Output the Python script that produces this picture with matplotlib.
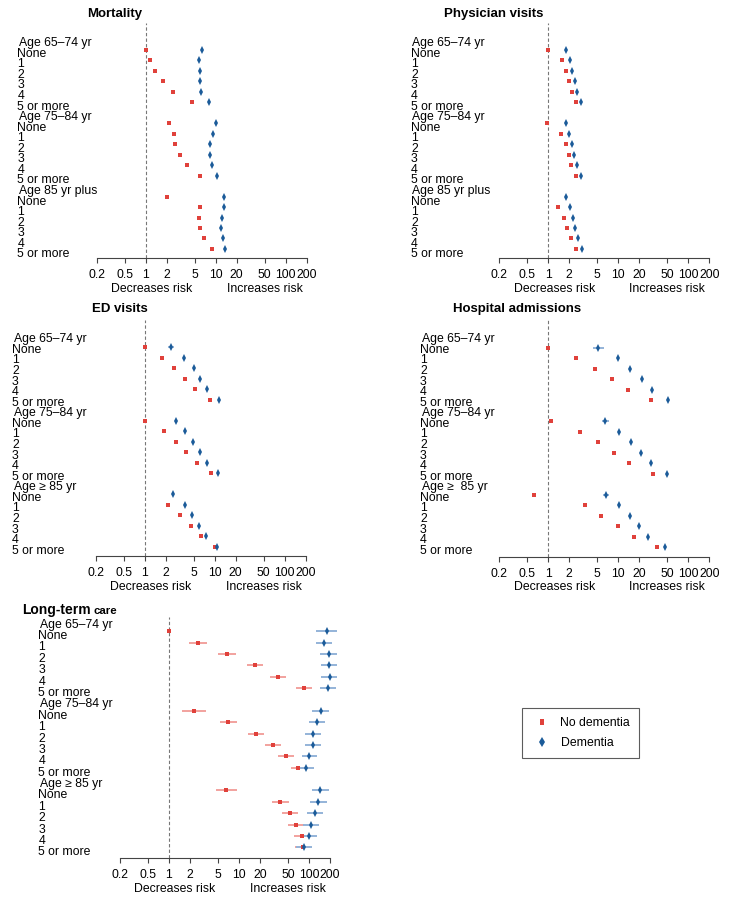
import numpy as np
import matplotlib.pyplot as plt
from matplotlib.lines import Line2D

plt.rcParams['font.family'] = ['Liberation Sans', 'DejaVu Sans']

RED = '#E0413B'
BLUE = '#1B5B99'
RED_CI = '#F2A29E'
BLUE_CI = '#94B3D8'

ticks = [0.2, 0.5, 1, 2, 5, 10, 20, 50, 100, 200]
tick_labels = ['0.2', '0.5', '1', '2', '5', '10', '20', '50', '100', '200']
counts = ['None', '1', '2', '3', '4', '5 or more']
ages_a = ['Age 65\u201374 yr', 'Age 75\u201384 yr', 'Age 85 yr plus']
ages_b = ['Age 65\u201374 yr', 'Age 75\u201384 yr', 'Age \u2265 85 yr']
ages_c = ['Age 65\u201374 yr', 'Age 75\u201384 yr', 'Age \u2265  85 yr']

# hazard ratios, 3 age groups x 6 comorbidity counts
mort_nd = [1.0, 1.14, 1.37, 1.77, 2.43, 4.55,
           2.15, 2.51, 2.65, 3.1, 3.86, 6.05,
           2.04, 5.92, 5.8, 5.99, 6.76, 8.9]
mort_d = [6.33, 5.73, 6.05, 6.05, 6.19, 8.15,
          10.2, 9.2, 8.42, 8.42, 8.9, 10.6,
          13.2, 13.1, 12.4, 12.1, 12.7, 13.7]

phys_nd = [1.0, 1.55, 1.81, 2.0, 2.16, 2.52,
           0.96, 1.52, 1.77, 1.96, 2.14, 2.49,
           None, 1.38, 1.68, 1.87, 2.11, 2.49]
phys_d = [1.79, 2.02, 2.21, 2.41, 2.6, 2.97,
          1.77, 2.0, 2.19, 2.35, 2.57, 2.97,
          1.81, 2.07, 2.28, 2.44, 2.66, 3.07]

ed_nd = [1.0, 1.8, 2.61, 3.79, 5.33, 8.45,
         1.0, 1.92, 2.82, 3.96, 5.51, 8.74,
         None, 2.14, 3.22, 4.57, 6.29, 9.97]
ed_d = [2.39, 3.71, 5.05, 6.15, 7.83, 11.4,
        2.79, 3.79, 4.83, 6.08, 7.83, 11.2,
        2.55, 3.75, 4.72, 5.89, 7.41, 10.9]
ed_ci_rows = [0]
ed_ci_lo = [2.14]
ed_ci_hi = [2.67]

hosp_nd = [1.0, 2.49, 4.65, 8.05, 13.6, 29.0,
           1.09, 2.87, 5.08, 8.69, 14.4, 31.0,
           0.63, 3.35, 5.73, 9.91, 16.8, 35.7]
hosp_d = [5.19, 9.91, 14.5, 21.8, 30.3, 51.9,
          6.53, 10.1, 15.2, 21.4, 29.4, 49.7,
          6.68, 10.4, 14.5, 20.0, 26.9, 46.5]
hosp_ci_rows = [0, 6, 12]
hosp_ci_lo = [4.31, 5.9, 6.0]
hosp_ci_hi = [6.25, 7.3, 7.5]

ltc_nd = [1.0, 2.57, 6.76, 16.8, 35.7, 86.0,
          2.28, 7.06, 17.7, 30.3, 47.5, 70.6,
          6.61, 39.0, 53.1, 65.4, 79.6, 81.3]
ltc_nd_lo = [1.0, 1.91, 5.08, 12.9, 27.8, 66.1,
             1.55, 5.3, 13.6, 23.6, 36.6, 54.8,
             4.7, 30.0, 41.2, 50.8, 61.2, 63.1]
ltc_nd_hi = [1.0, 3.5, 8.98, 22.1, 47.0, 112,
             3.39, 9.38, 23.1, 39.5, 61.9, 90.8,
             9.38, 51.3, 69.8, 84.1, 104, 104]
ltc_d = [179, 162, 194, 194, 198, 185,
         147, 129, 113, 113, 101, 90.8,
         146, 136, 122, 107, 99.1, 85.1]
ltc_d_lo = [126, 125, 146, 149, 150, 144,
            112, 100, 87.9, 87.1, 78.7, 70.6,
            111, 104, 93.8, 83.2, 77.0, 65.4]
ltc_d_hi = [255, 216, 255, 255, 255, 241,
            196, 168, 149, 147, 132, 118,
            194, 179, 159, 139, 129, 112]

rows = np.array([g * 7 + k for g in range(3) for k in range(6)])

W, H = 737, 900
fig = plt.figure(figsize=(W / 100, H / 100), dpi=100)
red_marker = [(-0.62, -1), (0.62, -1), (0.62, 1), (-0.62, 1)]


def panel(left, top, bottom, row0, step, lab_x, lab0, lab_step, nd, d, ages,
          title, tx, ty, nd_err=None, d_err=None):
    ax = fig.add_axes([left / W, 1 - bottom / H, 210 / W, (bottom - top) / H])
    ax.set_xscale('log')
    ax.set_xlim(0.2, 200)
    ax.set_ylim((bottom - row0) / step, (top - row0) / step)
    ax.axvline(1, color='#777777', lw=0.8, ls=(0, (3, 2)))
    nd = np.array(nd, dtype=float)
    d = np.array(d, dtype=float)
    if nd_err is not None:
        r, lo, hi = nd_err
        ax.hlines(rows[r], lo, hi, color=RED_CI, lw=1.4, clip_on=False)
    if d_err is not None:
        r, lo, hi = d_err
        ax.hlines(rows[r], lo, hi, color=BLUE_CI, lw=1.4, clip_on=False)
    ax.plot(nd, rows, ls='none', marker=red_marker, ms=3.5, color=RED,
            mec=RED, mew=0, clip_on=False)
    ax.plot(d, rows, ls='none', marker='d', ms=3.9, color=BLUE,
            mec=BLUE, mew=0, clip_on=False)

    for s in ['top', 'right', 'left']:
        ax.spines[s].set_visible(False)
    ax.spines['bottom'].set_bounds(0.2, 200)
    ax.spines['bottom'].set_color('#444444')
    ax.spines['bottom'].set_linewidth(0.8)
    ax.set_yticks([])
    ax.set_xticks(ticks)
    ax.set_xticklabels(tick_labels)
    ax.minorticks_off()
    ax.tick_params(axis='x', length=3.8, width=0.8, color='#444444', pad=4.2,
                   labelsize=8.8)

    labels = []
    for a in ages:
        labels.append(a)
        labels.extend(counts)
    tr = ax.get_yaxis_transform()
    for i, lab in enumerate(labels):
        yy = (lab0 + i * lab_step - row0) / step
        xx = (lab_x + (1.5 if lab.startswith('Age') else 0) - left) / 210
        ax.text(xx, yy, lab, transform=tr, ha='left', va='center',
                fontsize=8.8, clip_on=False)

    dy = -30.5 / (bottom - top)
    ax.text(0.262, dy, 'Decreases risk', transform=ax.transAxes,
            ha='center', va='center', fontsize=8.8)
    ax.text(0.8, dy, 'Increases risk', transform=ax.transAxes,
            ha='center', va='center', fontsize=8.8)
    if title is not None:
        fig.text(tx / W, 1 - ty / H, title, ha='left', va='center',
                 fontsize=9.5, fontweight='bold')
    return ax


panel(96.7, 22.7, 258, 50, 10.47, 17.3, 43.3, 10.55, mort_nd, mort_d, ages_a,
      'Mortality', 87, 14)
panel(499.3, 22.7, 258, 50, 10.47, 411, 43.3, 10.55, phys_nd, phys_d, ages_a,
      'Physician visits', 444, 14)
panel(95.7, 320, 556.3, 347, 10.51, 12, 339.3, 10.57, ed_nd, ed_d, ages_b,
      'ED visits', 92.3, 309.3,
      d_err=(ed_ci_rows, ed_ci_lo, ed_ci_hi))
panel(499.3, 320, 557, 347.7, 10.51, 420, 339.3, 10.57, hosp_nd, hosp_d, ages_c,
      'Hospital admissions', 453.3, 309.3,
      d_err=(hosp_ci_rows, hosp_ci_lo, hosp_ci_hi))
panel(120, 616.7, 858, 631.3, 11.37, 38.3, 624.7, 11.38, ltc_nd, ltc_d, ages_b,
      None, 0, 0,
      nd_err=(list(range(18)), ltc_nd_lo, ltc_nd_hi),
      d_err=(list(range(18)), ltc_d_lo, ltc_d_hi))

# two-size title of the last panel
fig.text(22.3 / W, 1 - 614 / H, 'Long-term', ha='left', va='baseline',
         fontsize=10, fontweight='bold')
fig.text(94 / W, 1 - 614 / H, 'care', ha='left', va='baseline',
         fontsize=8.2, fontweight='bold')

handles = [
    Line2D([], [], ls='none', marker=red_marker, ms=4.6, color=RED, mew=0),
    Line2D([], [], ls='none', marker='d', ms=5.0, color=BLUE, mew=0),
]
leg = fig.legend(handles, ['No dementia', 'Dementia'],
                 loc='upper left', bbox_to_anchor=(522 / W, 1 - 708 / H),
                 frameon=True, fancybox=False, fontsize=8.8,
                 borderpad=0.75, labelspacing=0.65, handlelength=1.7,
                 handletextpad=0.7, borderaxespad=0)
leg.get_frame().set_edgecolor('#333333')
leg.get_frame().set_linewidth(0.8)

fig.savefig('out.png', dpi=100)
